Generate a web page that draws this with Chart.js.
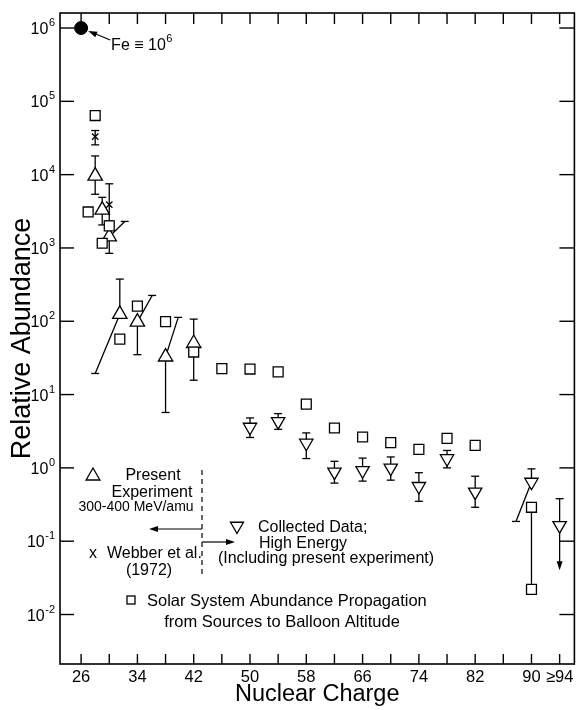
<!DOCTYPE html>
<html><head><meta charset="utf-8">
<script src="https://cdn.jsdelivr.net/npm/chart.js@4/dist/chart.umd.min.js"></script>
<style>html,body{margin:0;padding:0;background:#fff;} #wrap{width:584px;height:710px;position:relative;}</style>
</head><body><div id="wrap"><canvas id="c"></canvas></div>
<script>
// ---------------- data ----------------
const xTicks = [26,30,34,38,42,46,50,54,58,62,66,70,74,78,82,86,90,94];
const xTickLabels = ['26','','34','','42','','50','','58','','66','','74','','82','','90','≥94'];
const yTicks = [1e-2,1e-1,1,10,100,1e3,1e4,1e5,1e6];
const yTickBase = '10';
const yTickExponents = ['-2','-1','0','1','2','3','4','5','6'];

const feCharge = [26];
const feAbundance = [1e6];

// Present experiment (300-400 MeV/amu), open up-triangles
const presentCharge = [28, 29, 30, 31.5, 34, 38, 42];
const presentValue  = [9.6e3, 3.3e3, 1.42e3, 125, 98, 32.7, 50];
const presentHigh   = [1.8e4, 4.9e3, null, 376, null, null, 107];
const presentLow    = [5.4e3, 2.06e3, 844, null, 35, 5.7, 15.7];
// error limbs drawn slanted (from the point to an offset end)
const presentSlantCharge    = [30, 31.5, 34, 38];
const presentSlantEndCharge = [32.2, 28.0, 36.1, 39.8];
const presentSlantEndValue  = [2.3e3, 19.4, 225, 113];

// Webber et al. (1972), x
const webberCharge = [28, 30];
const webberValue  = [3.3e4, 3.9e3];
const webberHigh   = [4.0e4, 7.5e3];
const webberLow    = [2.55e4, 2.33e3];

// Collected data, high energy, open down-triangles
const collectedCharge = [50, 54, 58, 62, 66, 70, 74, 78, 82, 90, 94];
const collectedValue  = [3.6, 4.3, 2.18, 0.88, 0.92, 1.0, 0.56, 1.34, 0.47, 0.64, 0.164];
const collectedHigh   = [4.8, 5.5, 3.0, 1.23, 1.36, 1.41, 0.86, 1.73, 0.77, 0.97, 0.38];
const collectedLow    = [2.6, 3.36, 1.34, 0.62, 0.66, 0.68, 0.35, 1.0, 0.29, null, null];
const collectedSlantCharge    = [90];
const collectedSlantEndCharge = [87.8];
const collectedSlantEndValue  = [0.186];
const collectedLimitCharge = [94];
const collectedLimitValue  = [0.04];

// Solar system abundance propagated, open squares
const solarCharge = [27, 28, 29, 30, 31.5, 34, 38, 42, 46, 50, 54, 58, 62, 66, 70, 74, 78, 82, 90, 90];
const solarValue  = [3.1e3, 6.4e4, 1.16e3, 2.0e3, 57, 161, 99, 38, 22.6, 22.3, 20.4, 7.4, 3.5, 2.64, 2.21, 1.79, 2.53, 2.03, 0.29, 0.022];
const solarRangeCharge = [90];
const solarRangeHigh   = [0.29];
const solarRangeLow    = [0.022];

// ---------------- drawing ----------------
const FONT = "'Liberation Sans', Arial, sans-serif";
Chart.defaults.font.family = FONT;
Chart.defaults.color = '#000';

const pts = (xs, ys) => xs.map((x, i) => ({x: x, y: ys[i]}));

function seg(ctx, x1, y1, x2, y2) { ctx.beginPath(); ctx.moveTo(x1, y1); ctx.lineTo(x2, y2); ctx.stroke(); }
function arrowHead(ctx, x1, y1, x2, y2, len, half) {
  const a = Math.atan2(y2 - y1, x2 - x1);
  ctx.beginPath();
  ctx.moveTo(x2, y2);
  ctx.lineTo(x2 - len * Math.cos(a) + half * Math.sin(a), y2 - len * Math.sin(a) - half * Math.cos(a));
  ctx.lineTo(x2 - len * Math.cos(a) - half * Math.sin(a), y2 - len * Math.sin(a) + half * Math.cos(a));
  ctx.closePath(); ctx.fill();
}
function tri(ctx, x, y, r, down) {
  const s = down ? -1 : 1;
  ctx.beginPath();
  ctx.moveTo(x, y - s * r);
  ctx.lineTo(x + r * Math.sqrt(3) / 2, y + s * r / 2);
  ctx.lineTo(x - r * Math.sqrt(3) / 2, y + s * r / 2);
  ctx.closePath(); ctx.fillStyle = '#fff'; ctx.fill(); ctx.stroke();
}
// text with a raised exponent; (x, y) = left end, alphabetic baseline
function powerText(ctx, base, exp, x, y, size, expSize, raise) {
  ctx.textAlign = 'left'; ctx.textBaseline = 'alphabetic';
  ctx.font = `${size}px ${FONT}`;
  ctx.fillText(base, x, y);
  const w = ctx.measureText(base).width;
  ctx.font = `${expSize}px ${FONT}`;
  ctx.fillText(exp, x + w + 0.5, y - raise);
}

const errorPlugin = {
  id: 'errorBars',
  beforeDatasetsDraw(chart) {
    const ctx = chart.ctx, xs = chart.scales.x, ys = chart.scales.y;
    const X = v => xs.getPixelForValue(v), Y = v => ys.getPixelForValue(v);
    const CAP = 4;
    ctx.save();
    ctx.strokeStyle = '#000'; ctx.fillStyle = '#000'; ctx.lineWidth = 1.3;
    const bars = (Z, V, H, L) => Z.forEach((z, i) => {
      const x = X(z), y = Y(V[i]);
      if (H[i] != null) { seg(ctx, x, y, x, Y(H[i])); seg(ctx, x - CAP, Y(H[i]), x + CAP, Y(H[i])); }
      if (L[i] != null) { seg(ctx, x, y, x, Y(L[i])); seg(ctx, x - CAP, Y(L[i]), x + CAP, Y(L[i])); }
    });
    bars(presentCharge, presentValue, presentHigh, presentLow);
    bars(webberCharge, webberValue, webberHigh, webberLow);
    bars(collectedCharge, collectedValue, collectedHigh, collectedLow);
    const slant = (Z, V, SZ, EZ, EV) => SZ.forEach((z, i) => {
      const v = V[Z.indexOf(z)];
      const x1 = X(z), y1 = Y(v), x2 = X(EZ[i]), y2 = Y(EV[i]);
      seg(ctx, x1, y1, x2, y2);
      seg(ctx, x2 - CAP, y2, x2 + CAP, y2);
    });
    slant(presentCharge, presentValue, presentSlantCharge, presentSlantEndCharge, presentSlantEndValue);
    slant(collectedCharge, collectedValue, collectedSlantCharge, collectedSlantEndCharge, collectedSlantEndValue);
    solarRangeCharge.forEach((z, i) => seg(ctx, X(z), Y(solarRangeHigh[i]), X(z), Y(solarRangeLow[i])));
    collectedLimitCharge.forEach((z, i) => {
      const x = X(z), y1 = Y(collectedValue[collectedCharge.indexOf(z)]), y2 = Y(collectedLimitValue[i]);
      seg(ctx, x, y1, x, y2 - 6);
      arrowHead(ctx, x, y1, x, y2, 9, 3);
    });
    ctx.restore();
  }
};

const framePlugin = {
  id: 'frame',
  afterDraw(chart) {
    const ctx = chart.ctx, xs = chart.scales.x, ys = chart.scales.y;
    const {left, right, top, bottom} = chart.chartArea;
    ctx.save();
    ctx.strokeStyle = '#000'; ctx.fillStyle = '#000';
    ctx.lineWidth = 1.6;
    ctx.strokeRect(left, top, right - left, bottom - top);
    ctx.lineWidth = 1.4;
    xTicks.forEach(v => { const x = xs.getPixelForValue(v); seg(ctx, x, bottom, x, bottom - 10); seg(ctx, x, top, x, top + 11); });
    yTicks.forEach(v => { const y = ys.getPixelForValue(v); seg(ctx, left, y, left + 14, y); seg(ctx, right - 15, y, right, y); });

    // y tick labels: 10 with raised exponent, right edge 5px left of the axis
    yTicks.forEach((v, i) => {
      const y = ys.getPixelForValue(v);
      ctx.font = `16px ${FONT}`;
      const wb = ctx.measureText(yTickBase).width;
      ctx.font = `11px ${FONT}`;
      const we = ctx.measureText(yTickExponents[i]).width;
      powerText(ctx, yTickBase, yTickExponents[i], left - 5 - we - wb - 0.5, y + 6, 16, 11, 8);
    });

    // Fe normalisation note
    const fx = xs.getPixelForValue(feCharge[0]), fy = ys.getPixelForValue(feAbundance[0]);
    ctx.lineWidth = 1.2;
    seg(ctx, fx + 29, fy + 12, fx + 10, fy + 4);
    arrowHead(ctx, fx + 29, fy + 12, fx + 7, fy + 3, 9, 3);
    powerText(ctx, 'Fe ≡ 10', '6', fx + 30, fy + 22, 16, 11, 8);

    // legend block: present experiment / Webber
    ctx.lineWidth = 1.3; ctx.strokeStyle = '#000';
    tri(ctx, 93, 476, 8, false);
    ctx.fillStyle = '#000';
    ctx.textAlign = 'center';
    ctx.font = `16px ${FONT}`;
    ctx.fillText('Present', 153, 480);
    ctx.fillText('Experiment', 152, 497);
    ctx.font = `14px ${FONT}`;
    ctx.fillText('300-400 MeV/amu', 136, 511);
    ctx.font = `16px ${FONT}`;
    ctx.fillText('x', 93, 558);
    ctx.textAlign = 'left';
    ctx.fillText('Webber et al.', 107, 558);
    ctx.textAlign = 'center';
    ctx.fillText('(1972)', 149, 575);
    // dashed divider and arrows
    ctx.setLineDash([5, 4]); ctx.lineWidth = 1.2;
    seg(ctx, 202, 470, 202, 578);
    ctx.setLineDash([]);
    seg(ctx, 202, 529, 156, 529); arrowHead(ctx, 202, 529, 149, 529, 9, 3);
    seg(ctx, 202, 542, 228, 542); arrowHead(ctx, 202, 542, 235, 542, 9, 3);
    // collected data
    ctx.lineWidth = 1.3;
    tri(ctx, 237, 526, 7.5, true);
    ctx.fillStyle = '#000';
    ctx.font = `16px ${FONT}`;
    ctx.textAlign = 'left';
    ctx.fillText('Collected Data;', 258, 532);
    ctx.textAlign = 'center';
    ctx.fillText('High Energy', 303, 548);
    ctx.fillText('(Including present experiment)', 326, 563);
    // solar system
    ctx.strokeRect(127, 596, 8, 8);
    ctx.font = `16.5px ${FONT}`;
    ctx.textAlign = 'left';
    ctx.fillText('Solar System Abundance Propagation', 147, 606);
    ctx.textAlign = 'center';
    ctx.fillText('from Sources to Balloon Altitude', 282, 627);
    ctx.restore();
  }
};

new Chart(document.getElementById('c'), {
  type: 'scatter',
  data: {
    datasets: [
      { label: 'Solar System Abundance', data: pts(solarCharge, solarValue), pointStyle: 'rect', pointRadius: 7,
        pointBorderColor: '#000', pointBackgroundColor: '#fff', pointBorderWidth: 1.3, showLine: false },
      { label: 'Webber et al. (1972)', data: pts(webberCharge, webberValue), pointStyle: 'crossRot', pointRadius: 4.5,
        pointBorderColor: '#000', pointBorderWidth: 1.3, showLine: false },
      { label: 'Present Experiment', data: pts(presentCharge, presentValue), pointStyle: 'triangle', pointRadius: 8.3,
        pointBorderColor: '#000', pointBackgroundColor: '#fff', pointBorderWidth: 1.3, showLine: false },
      { label: 'Collected Data; High Energy', data: pts(collectedCharge, collectedValue), pointStyle: 'triangle', pointRotation: 180,
        pointRadius: 7.7, pointBorderColor: '#000', pointBackgroundColor: '#fff', pointBorderWidth: 1.3, showLine: false },
      { label: 'Fe', data: pts(feCharge, feAbundance), pointStyle: 'circle', pointRadius: 6.5,
        pointBorderColor: '#000', pointBackgroundColor: '#000', pointBorderWidth: 1, showLine: false }
    ]
  },
  options: {
    responsive: true, maintainAspectRatio: false, animation: false, events: [],
    layout: { padding: { top: 13, right: 8, left: 0, bottom: 0 } },
    plugins: { legend: { display: false }, tooltip: { enabled: false } },
    scales: {
      x: {
        type: 'linear', min: 23.0, max: 96.1,
        grid: { display: false, drawTicks: false }, border: { display: false },
        ticks: { autoSkip: false, maxRotation: 0, minRotation: 0, padding: 4, font: { size: 16.5 }, color: '#000',
          callback: v => { const i = xTicks.indexOf(v); return i < 0 ? '' : xTickLabels[i]; } },
        afterBuildTicks: s => { s.ticks = xTicks.map(v => ({ value: v })); },
        afterFit: s => { s.height = 46; s.paddingLeft = 0; s.paddingRight = 0; },
        title: { display: true, text: 'Nuclear Charge', font: { size: 23.5 }, color: '#000', padding: { top: 0, bottom: 1 } }
      },
      y: {
        type: 'logarithmic', min: 0.002113, max: 1.603e6,
        grid: { display: false, drawTicks: false }, border: { display: false },
        ticks: { display: false, autoSkip: false },
        afterBuildTicks: s => { s.ticks = yTicks.map(v => ({ value: v })); },
        afterFit: s => { s.width = 60; s.paddingTop = 0; s.paddingBottom = 0; },
        title: { display: true, text: 'Relative Abundance', font: { size: 27 }, color: '#000', padding: { top: 6, bottom: 0 } }
      }
    }
  },
  plugins: [errorPlugin, framePlugin]
});
</script>
</body></html>
